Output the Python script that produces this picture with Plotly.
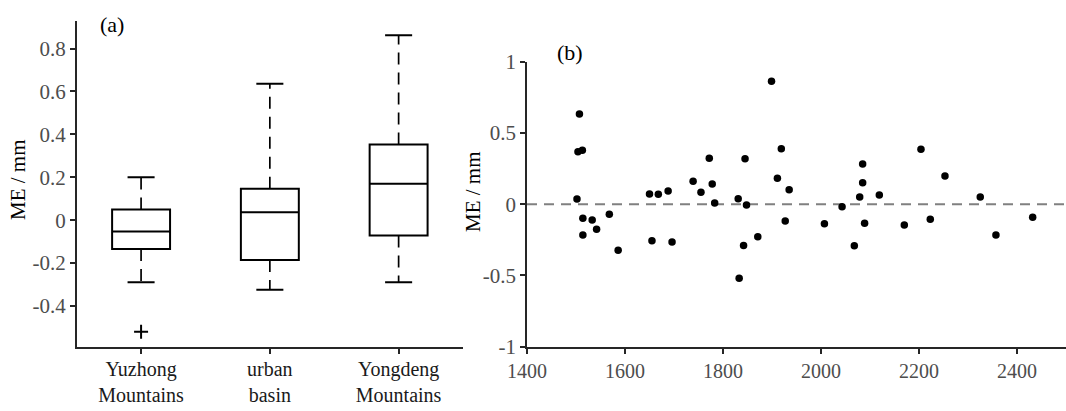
import plotly.graph_objects as go

# ---- (a) box statistics per region ----
regions = ["Yuzhong<br>Mountains", "urban<br>basin", "Yongdeng<br>Mountains"]
region_pos = [1, 2, 3]
q1 = [-0.134, -0.186, -0.072]
median = [-0.053, 0.037, 0.170]
q3 = [0.050, 0.147, 0.353]
whisker_low = [-0.290, -0.325, -0.289]
whisker_high = [0.200, 0.636, 0.862]
outlier_pos = [1]
outlier_val = [-0.520]

# ---- (b) ME versus station elevation ----
elevation = [1507, 1504, 1513, 1502, 1514, 1514, 1533, 1542, 1568, 1586,
             1650, 1655, 1668, 1688, 1696, 1739, 1755, 1772, 1778, 1783,
             1831, 1833, 1842, 1845, 1848, 1871, 1899, 1919, 1911, 1935,
             1927, 2007, 2043, 2068, 2079, 2085, 2085, 2089, 2119, 2170,
             2204, 2223, 2253, 2325, 2357, 2432]
me = [0.633, 0.368, 0.378, 0.036, -0.099, -0.216, -0.111, -0.176, -0.071, -0.324,
      0.072, -0.256, 0.069, 0.093, -0.265, 0.161, 0.083, 0.322, 0.142, 0.008,
      0.039, -0.520, -0.289, 0.319, -0.006, -0.228, 0.862, 0.390, 0.182, 0.102,
      -0.118, -0.137, -0.018, -0.291, 0.051, 0.282, 0.151, -0.134, 0.065, -0.146,
      0.385, -0.106, 0.198, 0.051, -0.216, -0.092]

left_ticks = [-0.4, -0.2, 0, 0.2, 0.4, 0.6, 0.8]
right_yticks = [-1, -0.5, 0, 0.5, 1]
right_xticks = [1400, 1600, 1800, 2000, 2200, 2400]

W, H = 1066, 411
FONT = "Liberation Serif"
AXIS_COLOR = "#262626"
TICK_COLOR = "#4d4d4d"
BOX_W = 0.45
CAP_HALF = 0.105


def px_x(v):
    return v / W


def px_y(v):
    return 1 - v / H


fig = go.Figure()

# boxes (whiskers drawn separately as dashed lines)
fig.add_trace(go.Box(
    x=region_pos, q1=q1, median=median, q3=q3,
    lowerfence=q1, upperfence=q3,
    width=BOX_W, whiskerwidth=0,
    line=dict(color="black", width=2), fillcolor="rgba(255,255,255,0)",
    boxpoints=False, showlegend=False, hoverinfo="skip",
    xaxis="x", yaxis="y",
))

for p, lo, hi, b, t in zip(region_pos, whisker_low, whisker_high, q1, q3):
    # dashed whiskers
    for y0, y1 in ((t, hi), (b, lo)):
        fig.add_trace(go.Scatter(
            x=[p, p], y=[y0, y1], mode="lines",
            line=dict(color="black", width=1.7, dash="12px,8px"),
            showlegend=False, hoverinfo="skip", xaxis="x", yaxis="y"))
    # whisker caps
    for yc in (lo, hi):
        fig.add_trace(go.Scatter(
            x=[p - CAP_HALF, p + CAP_HALF], y=[yc, yc], mode="lines",
            line=dict(color="black", width=2),
            showlegend=False, hoverinfo="skip", xaxis="x", yaxis="y"))

fig.add_trace(go.Scatter(
    x=outlier_pos, y=outlier_val, mode="markers",
    marker=dict(symbol="cross-thin", size=10, line=dict(color="black", width=2)),
    showlegend=False, hoverinfo="skip", xaxis="x", yaxis="y"))

# scatter of ME vs elevation
fig.add_trace(go.Scatter(
    x=elevation, y=me, mode="markers",
    marker=dict(color="black", size=7.5),
    showlegend=False, hoverinfo="skip", xaxis="x2", yaxis="y2"))

fig.add_shape(type="line", xref="x2", yref="y2", x0=1400, x1=2500, y0=0, y1=0,
              line=dict(color="#808080", width=2, dash="10px,7px"), layer="below")

axis_common = dict(
    showline=True, linecolor=AXIS_COLOR, linewidth=1.6,
    ticks="outside", ticklen=5, tickwidth=1.6, tickcolor=AXIS_COLOR,
    showgrid=False, zeroline=False, mirror=False, automargin=False,
)

fig.update_layout(
    width=W, height=H,
    margin=dict(l=0, r=0, t=0, b=0, pad=0),
    paper_bgcolor="white", plot_bgcolor="white",
    font=dict(family=FONT, size=20, color="black"),
    xaxis=dict(
        domain=[px_x(76.7), px_x(463)], range=[0.5, 3.5],
        tickmode="array", tickvals=region_pos, ticktext=regions,
        tickfont=dict(family=FONT, size=20, color="#1a1a1a"),
        ticklabelstandoff=-2,
        anchor="y", **axis_common),
    yaxis=dict(
        domain=[px_y(346.7), px_y(20.7)], range=[-0.59, 0.93],
        tickmode="array", tickvals=left_ticks,
        ticktext=["-0.4", "-0.2", "0", "0.2", "0.4", "0.6", "0.8"],
        tickfont=dict(family=FONT, size=21, color=TICK_COLOR),
        anchor="x", **axis_common),
    xaxis2=dict(
        domain=[px_x(527), 1.0], range=[1400, 2500],
        tickmode="array", tickvals=right_xticks,
        tickfont=dict(family=FONT, size=20, color=TICK_COLOR),
        anchor="y2", **axis_common),
    yaxis2=dict(
        domain=[px_y(346.7), px_y(61.7)], range=[-1, 1],
        tickmode="array", tickvals=right_yticks,
        ticktext=["-1", "-0.5", "0", "0.5", "1"],
        tickfont=dict(family=FONT, size=21, color=TICK_COLOR),
        anchor="x2", **axis_common),
    annotations=[
        dict(text="ME / mm", x=px_x(18), y=px_y(180), xref="paper", yref="paper",
             textangle=-90, showarrow=False, font=dict(family=FONT, size=21, color="black"),
             xanchor="center", yanchor="middle"),
        dict(text="ME / mm", x=px_x(473), y=px_y(192), xref="paper", yref="paper",
             textangle=-90, showarrow=False, font=dict(family=FONT, size=21, color="black"),
             xanchor="center", yanchor="middle"),
        dict(text="(a)", x=px_x(112), y=px_y(24), xref="paper", yref="paper",
             showarrow=False, font=dict(family=FONT, size=22, color="black"),
             xanchor="center", yanchor="middle"),
        dict(text="(b)", x=px_x(570), y=px_y(52), xref="paper", yref="paper",
             showarrow=False, font=dict(family=FONT, size=22, color="black"),
             xanchor="center", yanchor="middle"),
    ],
)

fig.write_html("out.html")
